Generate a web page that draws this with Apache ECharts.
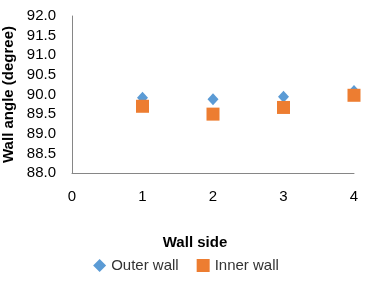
<!DOCTYPE html>
<html><head><meta charset="utf-8">
<script src="https://cdn.jsdelivr.net/npm/echarts@6/dist/echarts.min.js"></script>
<style>html,body{margin:0;padding:0;background:#fff}#c{width:372px;height:282px}</style>
</head><body><div id="c"></div>
<script>
const wallSides = [1, 2, 3, 4];
const outerWall = [89.92, 89.88, 89.94, 90.09];
const innerWall = [89.70, 89.50, 89.67, 89.98];
const yTicks = [88.0, 88.5, 89.0, 89.5, 90.0, 90.5, 91.0, 91.5, 92.0];

const font = 'Liberation Sans';
const chart = echarts.init(document.getElementById('c'), null, {renderer: 'canvas'});
chart.setOption({
  animation: false,
  textStyle: {fontFamily: font},
  grid: {left: 72, right: 18, top: 16, bottom: 109, containLabel: false, outerBoundsMode: 'none'},
  legend: {
    bottom: 4, left: 'center', itemGap: 18, itemWidth: 13, itemHeight: 13,
    textStyle: {fontFamily: font, fontSize: 15, color: '#333'},
    data: [{name: 'Outer wall', icon: 'diamond', itemStyle: {opacity: 1}},
           {name: 'Inner wall', icon: 'rect', itemStyle: {opacity: 1}}]
  },
  xAxis: {
    type: 'value', min: 0, max: 4, interval: 1,
    name: 'Wall side', nameLocation: 'middle', nameGap: 62,
    nameTextStyle: {fontFamily: font, fontSize: 15, fontWeight: 'bold', color: '#000', padding: [0, 36, 0, 0]},
    axisLine: {show: true, lineStyle: {color: '#868686', width: 1}},
    axisTick: {show: false},
    splitLine: {show: false},
    axisLabel: {fontFamily: font, fontSize: 15, color: '#000', margin: 16}
  },
  yAxis: {
    type: 'value', min: 88, max: 92, interval: 0.5,
    name: 'Wall angle (degree)', nameLocation: 'middle', nameGap: 50,
    nameTextStyle: {fontFamily: font, fontSize: 15, fontWeight: 'bold', color: '#000'},
    axisLine: {show: true, lineStyle: {color: '#868686', width: 1}},
    axisTick: {show: false},
    splitLine: {show: false},
    axisLabel: {fontFamily: font, fontSize: 15, color: '#000', margin: 16,
      formatter: v => v.toFixed(1)}
  },
  series: [
    {name: 'Outer wall', type: 'scatter', symbol: 'diamond', symbolSize: [11, 12],
     itemStyle: {color: '#5B9BD5', opacity: 1}, z: 2,
     data: wallSides.map((x, i) => [x, outerWall[i]])},
    {name: 'Inner wall', type: 'scatter', symbol: 'rect', symbolSize: 13,
     itemStyle: {color: '#ED7D31', opacity: 1}, z: 3,
     data: wallSides.map((x, i) => [x, innerWall[i]])}
  ]
});
</script></body></html>
